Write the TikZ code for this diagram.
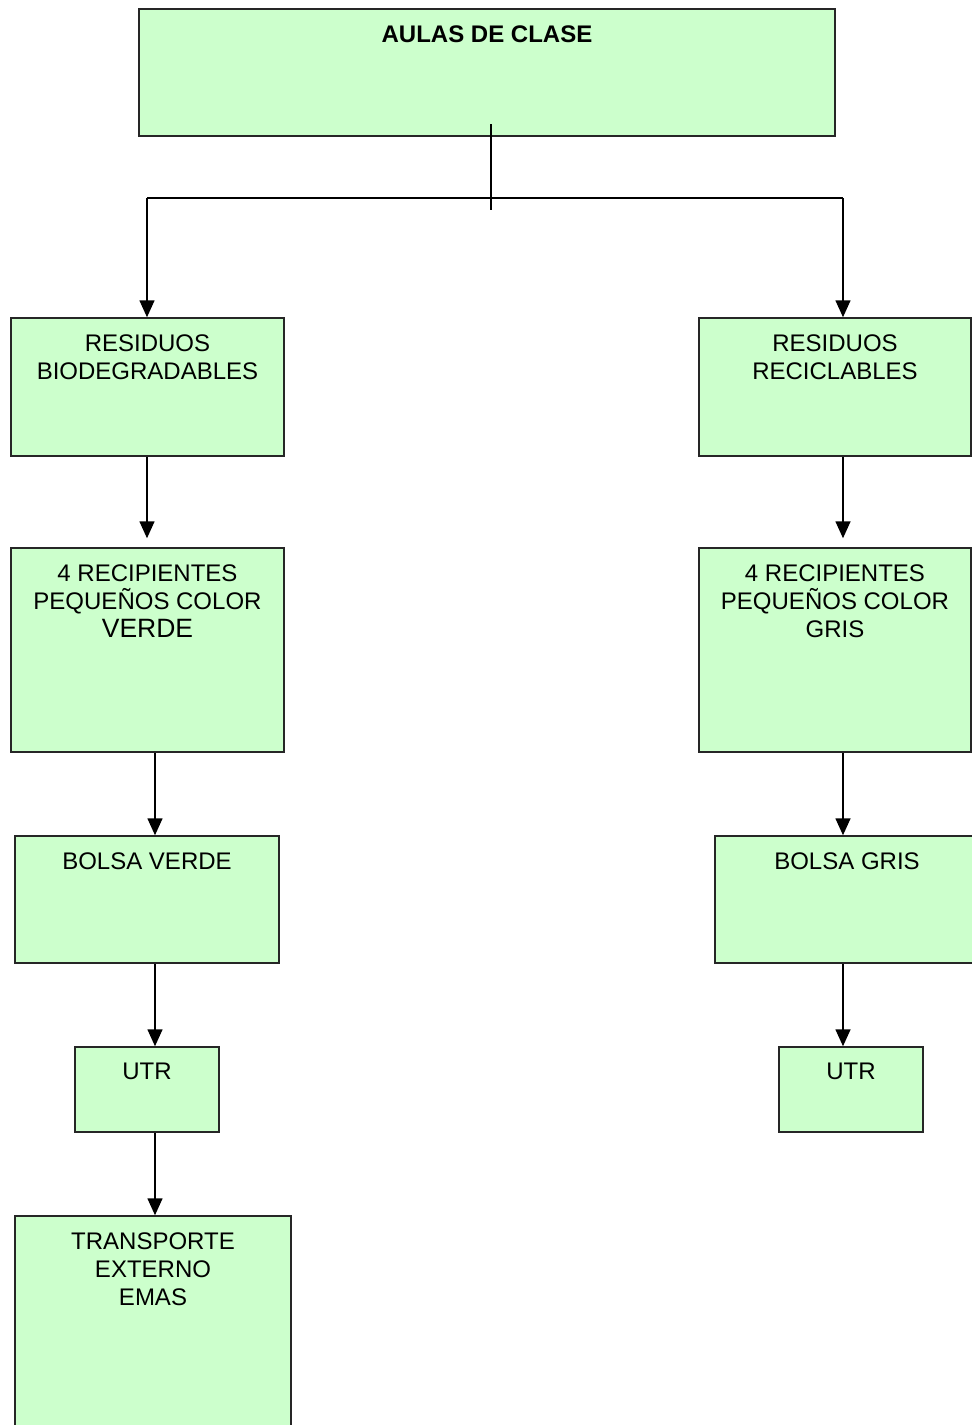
\documentclass[tikz,border=0pt]{standalone}
\usepackage{fontspec}
\setmainfont{Liberation Sans}
\usetikzlibrary{arrows.meta}
\definecolor{boxgreen}{HTML}{CCFFCC}
\begin{document}
\begin{tikzpicture}[x=1pt,y=-1pt,
  box/.style={draw=black!85, line width=1.5pt, fill=boxgreen, inner sep=0pt},
  lbl/.style={anchor=north, inner sep=0pt, align=center, yshift=-17pt,
              font=\fontsize{24}{28}\selectfont},
  link/.style={line width=1.6pt, draw=black},
  arr/.style={link, -{Triangle[length=17pt,width=15pt]}}]
\useasboundingbox (0,0) rectangle (972,1425);
\clip (0,0) rectangle (972,1425);

% boxes
\node[box, minimum width=696pt, minimum height=127pt] (top) at (487,72.5) {};
\node[box, minimum width=273pt, minimum height=138pt] (rb) at (147.5,387) {};
\node[box, minimum width=272pt, minimum height=138pt] (rr) at (835,387) {};
\node[box, minimum width=273pt, minimum height=204pt] (rv) at (147.5,650) {};
\node[box, minimum width=272pt, minimum height=204pt] (rg) at (835,650) {};
\node[box, minimum width=264pt, minimum height=127pt] (bv) at (147,899.5) {};
\node[box, minimum width=264pt, minimum height=127pt] (bg) at (847,899.5) {};
\node[box, minimum width=144pt, minimum height=85pt] (ul) at (147,1089.5) {};
\node[box, minimum width=144pt, minimum height=85pt] (ur) at (851,1089.5) {};
\node[box, minimum width=276pt, minimum height=264pt] (tr) at (153,1348) {};

% labels
\node[lbl, font=\fontsize{24}{28}\selectfont\bfseries] (ttop) at (top.north) {AULAS DE CLASE};
\node[lbl] (trb) at (rb.north) {RESIDUOS\\BIODEGRADABLES};
\node[lbl] (trr) at (rr.north) {RESIDUOS\\RECICLABLES};
\node[lbl] (trv) at (rv.north) {4 RECIPIENTES\\PEQUEÑOS COLOR\\{\fontsize{26.5}{29}\selectfont VERDE}};
\node[lbl] (trg) at (rg.north) {4 RECIPIENTES\\PEQUEÑOS COLOR\\GRIS};
\node[lbl] (tbv) at (bv.north) {BOLSA VERDE};
\node[lbl] (tbg) at (bg.north) {BOLSA GRIS};
\node[lbl] (tul) at (ul.north) {UTR};
\node[lbl] (tur) at (ur.north) {UTR};
\node[lbl] (ttr) at (tr.north) {TRANSPORTE\\EXTERNO\\EMAS};

% branching from the top box
\coordinate (stemtop) at (491,124);
\coordinate (stembot) at (491,210);
\coordinate (forkL) at (147,198);
\coordinate (forkR) at (843,198);
\coordinate (colA) at (147,0);
\coordinate (colL) at (155,0);
\coordinate (colR) at (843,0);
\draw[link] (stemtop) -- (stembot);
\draw[link] (forkL) -- (forkR);
\draw[arr] (forkL) -- (rb.north -| forkL);
\draw[arr] (forkR) -- (rr.north -| forkR);

% left column
\draw[arr, shorten >=9pt] (rb.south -| colA) -- (rv.north -| colA);
\draw[arr] (rv.south -| colL) -- (bv.north -| colL);
\draw[arr] (bv.south -| colL) -- (ul.north -| colL);
\draw[arr] (ul.south -| colL) -- (tr.north -| colL);

% right column
\draw[arr, shorten >=9pt] (rr.south -| colR) -- (rg.north -| colR);
\draw[arr] (rg.south -| colR) -- (bg.north -| colR);
\draw[arr] (bg.south -| colR) -- (ur.north -| colR);
\end{tikzpicture}
\end{document}
